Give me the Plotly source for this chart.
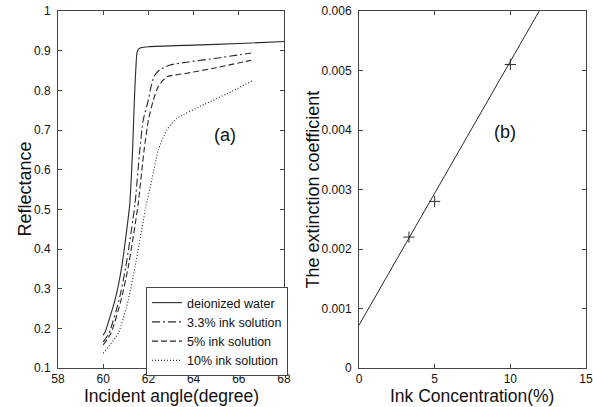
import plotly.graph_objects as go

# ---- Panel (a): reflectance vs incident angle ----
water_x = [60, 60.08, 60.52, 60.82, 61.17, 61.3, 61.38, 61.44, 61.49, 61.56, 61.7, 62.0, 64, 66, 68]
water_y = [0.183, 0.19, 0.271, 0.355, 0.51, 0.65, 0.776, 0.85, 0.893, 0.904, 0.908, 0.91, 0.914, 0.918, 0.923]

ink33_x = [60, 60.26, 60.7, 61.0, 61.4, 61.62, 61.77, 62.0, 62.12, 62.25, 62.5, 62.96, 63.7, 65.0, 66.55]
ink33_y = [0.166, 0.188, 0.271, 0.355, 0.51, 0.65, 0.725, 0.776, 0.81, 0.835, 0.852, 0.864, 0.871, 0.881, 0.894]

ink5_x = [60, 60.35, 60.79, 61.11, 61.54, 61.81, 62.0, 62.22, 62.44, 62.81, 63.69, 65.0, 66.55]
ink5_y = [0.158, 0.188, 0.271, 0.355, 0.51, 0.65, 0.725, 0.776, 0.81, 0.834, 0.843, 0.857, 0.876]

ink10_x = [60, 60.67, 61.11, 61.41, 61.9, 62.15, 62.44, 62.81, 63.25, 64.5, 65.5, 66.6]
ink10_y = [0.137, 0.188, 0.271, 0.355, 0.51, 0.574, 0.65, 0.70, 0.729, 0.765, 0.792, 0.824]

labels_a = ["deionized water", "3.3% ink solution", "5% ink solution", "10% ink solution"]
dashes_a = ["solid", "8px,3px,2px,3px", "6px,3px", "1px,2px"]

# ---- Panel (b): extinction coefficient vs ink concentration ----
conc = [3.3, 5, 10]
ext = [0.0022, 0.0028, 0.0051]
fit_x = [0, 12]
fit_y = [0.00072, 0.00604]

LINE = "#2a2a2a"
AX = "#444444"
FONT = "Liberation Sans, Arial, sans-serif"

fig = go.Figure()

series = [(water_x, water_y), (ink33_x, ink33_y), (ink5_x, ink5_y), (ink10_x, ink10_y)]
for (sx, sy), lab, d in zip(series, labels_a, dashes_a):
    fig.add_trace(go.Scatter(
        x=sx, y=sy, mode="lines", name=lab,
        line=dict(color=LINE, width=1.1, dash=d, shape="spline", smoothing=0.5),
        xaxis="x", yaxis="y", showlegend=True))

fig.add_trace(go.Scatter(
    x=fit_x, y=fit_y, mode="lines", line=dict(color=LINE, width=1),
    xaxis="x2", yaxis="y2", showlegend=False))
fig.add_trace(go.Scatter(
    x=conc, y=ext, mode="markers",
    marker=dict(symbol="cross-thin", size=8, line=dict(width=1, color=LINE), color=LINE),
    xaxis="x2", yaxis="y2", showlegend=False))

W, H = 593, 407
def px_x(p):
    return p / W
def px_y(p):
    return 1 - p / H

axis_common = dict(
    showline=True, linecolor=AX, linewidth=1, mirror="ticks",
    ticks="inside", ticklen=4, tickcolor=AX, showgrid=False, zeroline=False,
    tickfont=dict(family=FONT, size=12, color="#111"), automargin=False,
)

fig.update_layout(
    width=W, height=H,
    margin=dict(l=0, r=0, t=0, b=0),
    paper_bgcolor="white", plot_bgcolor="white",
    font=dict(family=FONT, color="#111"),
    hovermode=False,
    xaxis=dict(domain=[px_x(58), px_x(284)], range=[58, 68], dtick=2, anchor="y",
               ticklabelstandoff=0, **axis_common),
    yaxis=dict(domain=[px_y(368), px_y(11)], range=[0.1, 1], dtick=0.1, anchor="x",
               ticklabelstandoff=4, **axis_common),
    xaxis2=dict(domain=[px_x(359), px_x(586)], range=[0, 15], dtick=5, anchor="y2",
                ticklabelstandoff=0, **axis_common),
    yaxis2=dict(domain=[px_y(368), px_y(11)], range=[0, 0.006], dtick=0.001, anchor="x2",
                ticklabelstandoff=4, **axis_common),
    legend=dict(x=px_x(146), y=px_y(287), xanchor="left", yanchor="top",
                bordercolor=AX, borderwidth=1, bgcolor="white",
                font=dict(family=FONT, size=12.5, color="#111"),
                tracegroupgap=0, itemwidth=30),
    showlegend=True,
)

ann = [
    dict(text="Incident angle(degree)", x=px_x(171), y=px_y(396), xref="paper", yref="paper",
         showarrow=False, font=dict(size=17.5), xanchor="center", yanchor="middle"),
    dict(text="Ink Concentration(%)", x=px_x(472), y=px_y(396), xref="paper", yref="paper",
         showarrow=False, font=dict(size=17.5), xanchor="center", yanchor="middle"),
    dict(text="Reflectance", x=px_x(24), y=px_y(189.5), xref="paper", yref="paper",
         showarrow=False, font=dict(size=18), textangle=-90, xanchor="center", yanchor="middle"),
    dict(text="The extinction coefficient", x=px_x(312), y=px_y(189.5), xref="paper", yref="paper",
         showarrow=False, font=dict(size=18), textangle=-90, xanchor="center", yanchor="middle"),
    dict(text="(a)", x=65.39, y=0.687, xref="x", yref="y", showarrow=False, font=dict(size=18)),
    dict(text="(b)", x=9.65, y=0.00397, xref="x2", yref="y2", showarrow=False, font=dict(size=18)),
]
fig.update_layout(annotations=ann)

fig.write_html("out.html",
               config={"displayModeBar": False, "staticPlot": True},
               post_script="document.body.style.margin='0';document.body.style.overflow='hidden';")
